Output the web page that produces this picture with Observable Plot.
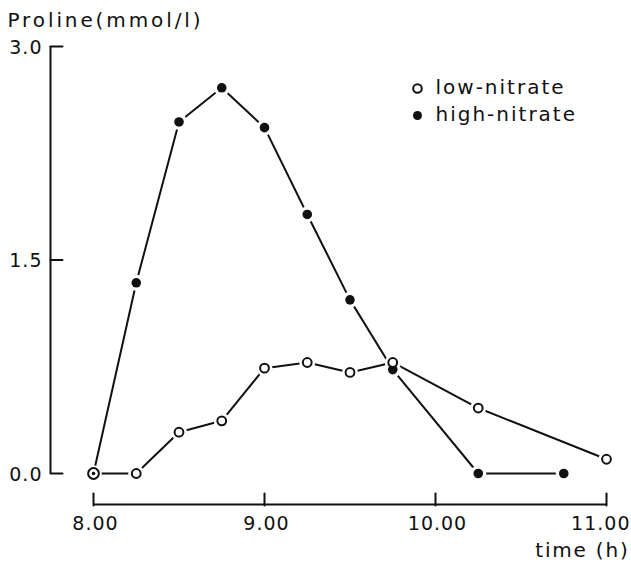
<!DOCTYPE html>
<html>
<head>
<meta charset="utf-8">
<script src="https://cdn.jsdelivr.net/npm/d3@7"></script>
<script src="https://cdn.jsdelivr.net/npm/@observablehq/plot@0.6"></script>
<style>
  html, body { margin: 0; padding: 0; background: #fff; }
</style>
</head>
<body>
<div id="chart"></div>
<script>
// ---- data ----
const lowHours  = [8.00, 8.25, 8.50, 8.75, 9.00, 9.25, 9.50, 9.75, 10.25, 11.00];
const lowValues = [0.00, 0.00, 0.29, 0.37, 0.74, 0.78, 0.71, 0.78, 0.46, 0.10];
const highHours  = [8.00, 8.25, 8.50, 8.75, 9.00, 9.25, 9.50, 9.75, 10.25, 10.75];
const highValues = [0.00, 1.34, 2.47, 2.71, 2.43, 1.82, 1.22, 0.73, 0.00, 0.00];
const xTicks = [8, 9, 10, 11];
const yTicks = [0, 1.5, 3];
const seriesNames = ["low-nitrate", "high-nitrate"];
const yTitle = "Proline(mmol/l)";
const xTitle = "time (h)";

const low = lowHours.map((t, i) => ({t, v: lowValues[i]}));
const high = highHours.map((t, i) => ({t, v: highValues[i]}));
const all = low.concat(high);

const ink = "#111";
const font = "DejaVu Sans";
const tickShape = {draw(context, l) { context.moveTo(0, 0); context.lineTo(0, -l); }};
const fmtX = d => d.toFixed(2);
const fmtY = d => d.toFixed(1);

const chart = Plot.plot({
  width: 631,
  height: 564,
  marginTop: 46,
  marginBottom: 91,
  marginLeft: 93,
  marginRight: 25,
  style: {fontFamily: font, fontSize: "19px", color: ink, background: "#fff", overflow: "visible"},
  x: {domain: [xTicks[0], xTicks[xTicks.length - 1]], axis: null},
  y: {domain: [yTicks[0], yTicks[yTicks.length - 1]], axis: null},
  marks: [
    // y axis line + ticks (offset to the left)
    Plot.ruleX([xTicks[0]], {y1: yTicks[0], y2: yTicks[yTicks.length - 1], dx: -43, stroke: ink, strokeWidth: 2}),
    Plot.vector(yTicks, {x: () => xTicks[0], y: d => d, length: 12, rotate: 90, anchor: "start", shape: tickShape, dx: -43, stroke: ink, strokeWidth: 2}),
    Plot.text(yTicks, {x: () => xTicks[0], y: d => d, text: fmtY, dx: -51, dy: 1, textAnchor: "end", fill: ink, fontSize: 19}),
    // x axis line + ticks (offset below)
    Plot.ruleY([yTicks[0]], {x1: xTicks[0], x2: xTicks[xTicks.length - 1], dy: 31, stroke: ink, strokeWidth: 2}),
    Plot.vector(xTicks, {x: d => d, y: () => yTicks[0], length: 12, rotate: 0, anchor: "start", shape: tickShape, dy: 32, stroke: ink, strokeWidth: 2}),
    Plot.text(xTicks.slice(0, -1), {x: d => d, y: () => yTicks[0], text: fmtX, dy: 50, dx: 2, textAnchor: "middle", fill: ink, fontSize: 19}),
    Plot.text(xTicks.slice(-1), {x: d => d, y: () => yTicks[0], text: fmtX, dy: 50, dx: 24, textAnchor: "end", fill: ink, fontSize: 19}),
    // titles
    Plot.text([yTitle], {frameAnchor: "top-left", dx: -86, dy: -26, lineAnchor: "middle", textAnchor: "start", fill: ink, fontSize: 20}),
    Plot.text([xTitle], {frameAnchor: "bottom-right", dx: 23, dy: 77, lineAnchor: "middle", textAnchor: "end", fill: ink, fontSize: 20}),
    // lines
    Plot.line(low, {x: "t", y: "v", stroke: ink, strokeWidth: 2}),
    Plot.line(high, {x: "t", y: "v", stroke: ink, strokeWidth: 2}),
    // white halos to create gaps between lines and markers
    Plot.dot(all, {x: "t", y: "v", r: 8, fill: "#fff", stroke: "none"}),
    // markers
    Plot.dot(high, {x: "t", y: "v", r: 4.8, fill: ink, stroke: "none"}),
    Plot.dot(low.slice(1), {x: "t", y: "v", r: 4.4, fill: "#fff", stroke: ink, strokeWidth: 2}),
    Plot.dot(low.slice(0, 1), {x: "t", y: "v", r: 5.4, fill: "#fff", stroke: ink, strokeWidth: 2}),
    Plot.dot([high[0]], {x: "t", y: "v", r: 1.8, fill: ink, stroke: "none"}),
    // legend
    Plot.dot([seriesNames[0]], {frameAnchor: "top-left", dx: 324, dy: 42, r: 4.3, fill: "#fff", stroke: ink, strokeWidth: 2}),
    Plot.text([seriesNames[0]], {frameAnchor: "top-left", dx: 342, dy: 41, lineAnchor: "middle", textAnchor: "start", fill: ink, fontSize: 20}),
    Plot.dot([seriesNames[1]], {frameAnchor: "top-left", dx: 324, dy: 69, r: 4.5, fill: ink, stroke: "none"}),
    Plot.text([seriesNames[1]], {frameAnchor: "top-left", dx: 342, dy: 68, lineAnchor: "middle", textAnchor: "start", fill: ink, fontSize: 20})
  ]
});

// letter spacing to mimic the wide lettering of the original
const spacing = new Map([
  [yTitle, 2.9],
  [xTitle, 1.8],
  ...seriesNames.map(s => [s, 2.0]),
  ...xTicks.map(d => [fmtX(d), 1]),
  ...yTicks.map(d => [fmtY(d), 1])
]);
d3.select(chart).selectAll("text").each(function() {
  const s = spacing.get(this.textContent);
  if (s != null) this.setAttribute("letter-spacing", s + "px");
});
document.getElementById("chart").appendChild(chart);
</script>
</body>
</html>
